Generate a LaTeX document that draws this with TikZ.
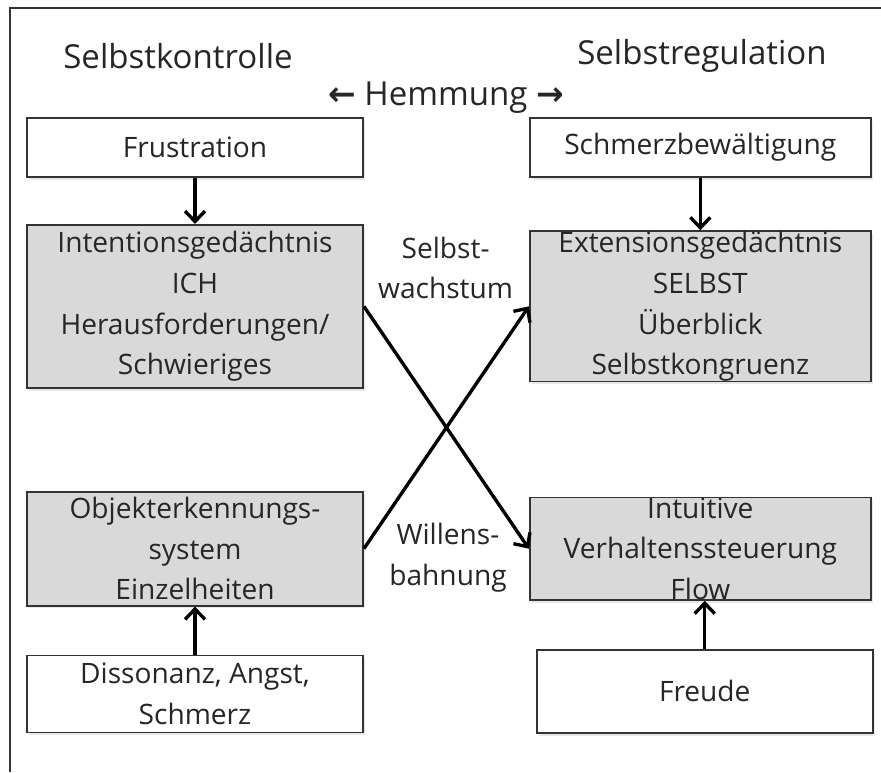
\documentclass[tikz,border=0pt]{standalone}
\usepackage{fontspec}
\setmainfont{Open Sans}
\newfontfamily\arrowfont{DejaVu Sans}
\usepackage{tikz}
\usetikzlibrary{arrows.meta, positioning, shadows}

\begin{document}
\begin{tikzpicture}[node distance=1.15cm and 4.125cm,
            font=\fontsize{20}{29}\selectfont,
            white-block/.style={rectangle, draw=black!80, line width=1.3pt, fill=white, text=black!85, minimum width=8.4cm, minimum height=1.475cm, align=center, inner sep=0pt, drop shadow={opacity=0.18, shadow xshift=0.5mm, shadow yshift=-0.7mm}},
            block/.style={white-block, fill=black!15},
            wide/.style={minimum width=8.525cm},
            label-text/.style={align=center, inner sep=0pt, text=black!85},
            heading/.style={label-text, font=\fontsize{23.5}{28}\selectfont},
            arrow/.style={line width=2.4pt, -{Straight Barb[length=2.6mm, width=5mm]}}
        ]

        \useasboundingbox (0,0) rectangle (22.025,-19.3);
        \draw[line width=1pt, black!80] (0.25,-19.3) -- (0.25,-0.2) -- (22.025,-0.2);

        % Headings
        \node[heading] (kontrolle) at (4.45,-1.4) {Selbstkontrolle};
        \node[heading] (regulation) at (17.55,-1.4) {Selbstregulation};
        \node[heading] (hemmung) at (11.15,-2.45) {{\arrowfont\bfseries ←} Hemmung {\arrowfont\bfseries →}};

        % Left column
        \node[white-block] (frustration) at (4.875,-3.6875) {Frustration};
        \node[block, below=of frustration, minimum height=4.075cm] (intentions) {Intentionsgedächtnis\\ICH\\Herausforderungen/\\Schwieriges};
        \node[block, below=2.55cm of intentions, minimum height=2.85cm] (objekt) {Objekterkennungs-\\system\\Einzelheiten};
        \node[white-block, below=1.2cm of objekt, minimum height=1.925cm] (dissonanz) {Dissonanz, Angst,\\Schmerz};

        % Right column
        \node[white-block, wide, right=of frustration] (schmerz) {Schmerzbewältigung};
        \node[block, wide, right=of intentions] (extension) {Extensionsgedächtnis\\SELBST\\Überblick\\Selbstkongruenz};
        \node[block, wide, right=of objekt] (intuitive) {Intuitive\\Verhaltenssteuerung\\Flow};
        \node[white-block, below=1.2cm of intuitive, xshift=0.11cm, minimum height=2.075cm] (freude) {Freude};

        % Middle labels
        \node[label-text] (wachstum) at (11.14,-6.7) {Selbst-\\wachstum};
        \node[label-text] (willens) at (11.2,-13.95) {Willens-\\bahnung};

        % Arrows
        \draw[arrow] (frustration) -- (intentions);
        \draw[arrow] (schmerz) -- (extension);
        \draw[arrow] (dissonanz) -- (objekt);
        \draw[arrow] (freude.north) -- (freude.north |- intuitive.south);
        \draw[arrow] (intentions.east) -- (intuitive.west);
        \draw[arrow] (objekt.east) -- (extension.west);

    \end{tikzpicture}
\end{document}
